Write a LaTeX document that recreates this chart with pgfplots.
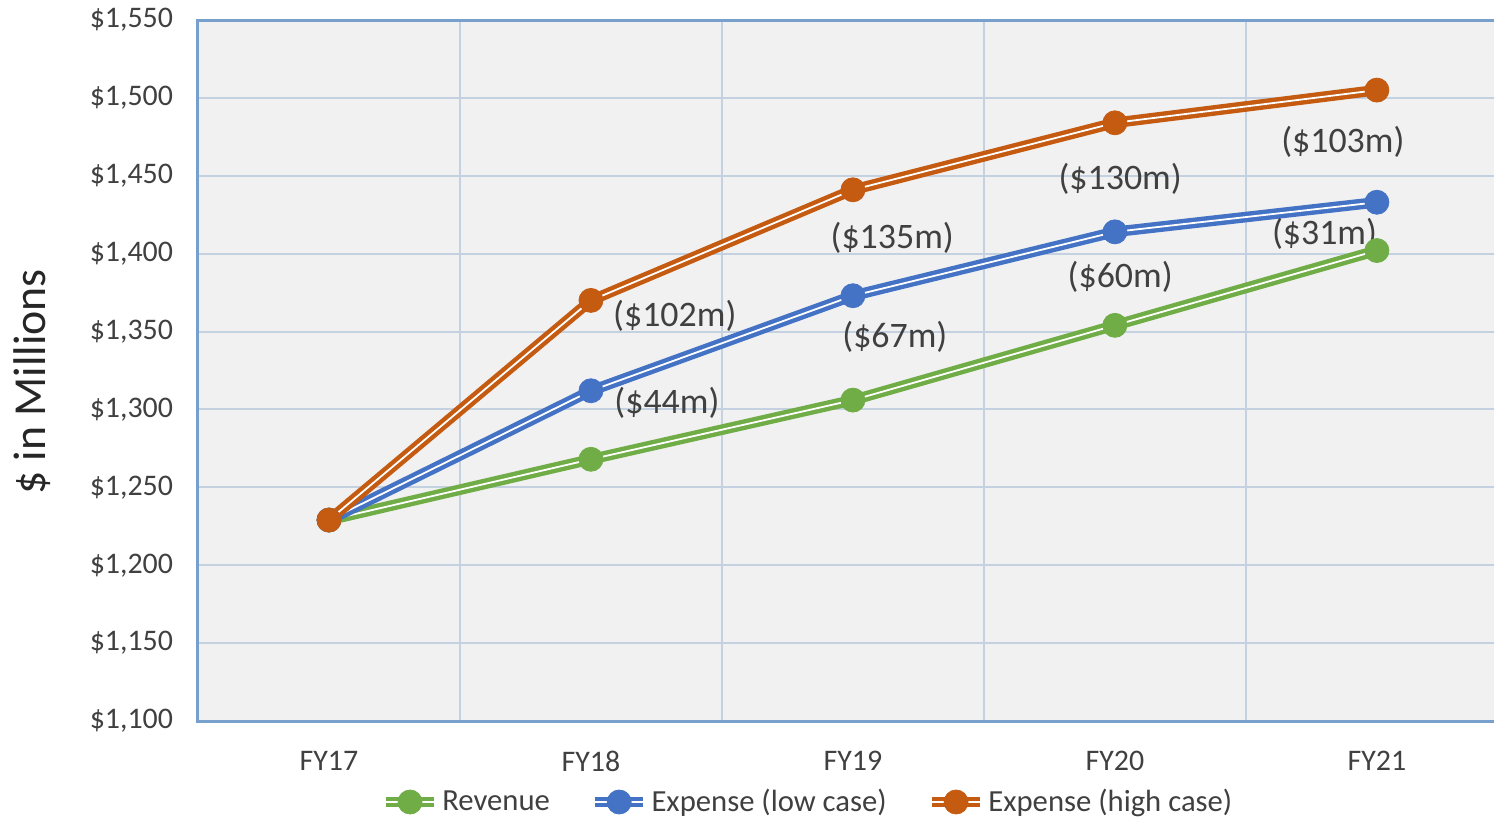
\documentclass[border=0pt]{standalone}
\usepackage{pgfplots}
\pgfplotsset{compat=1.18}
\usepackage{fontspec}
\setmainfont{Carlito}
\definecolor{cOr}{RGB}{197,90,17}
\definecolor{cBl}{RGB}{68,114,196}
\definecolor{cGr}{RGB}{112,173,71}
\definecolor{cGrid}{RGB}{196,209,224}
\definecolor{cFrame}{RGB}{120,160,205}
\definecolor{cBg}{RGB}{241,241,241}
\definecolor{cTxt}{RGB}{64,64,64}
\tikzset{dl/.style={line width=2.2bp, double=white, double distance=0.9bp, line join=round, line cap=round}}
\begin{document}
\begin{tikzpicture}
\begin{axis}[
 name=ax,
 scale only axis, width=648bp, height=350.5bp,
 clip=false,
 xmin=-0.5, xmax=4.447, ymin=1100, ymax=1550,
 xtick={0,1,2,3,4}, xticklabels={FY17,FY18,FY19,FY20,FY21},
 minor xtick={0.5,1.5,2.5,3.5},
 ytick={1100,1150,...,1550},
 xminorgrids=true, ymajorgrids=true, xmajorgrids=false,
 grid style={cGrid, line width=1bp},
 minor grid style={cGrid, line width=1bp},
 major tick length=0pt, minor tick length=0pt,
 axis line style={draw=none},
 axis background/.style={fill=cBg},
 tick label style={font=\fontsize{15}{18}\selectfont, text=cTxt},
 xticklabel style={yshift=-11.5bp},
 yticklabel style={xshift=-9bp},
 /pgf/number format/assume math mode=true,
 yticklabel={\$\pgfmathprintnumber[assume math mode=true,1000 sep={,},fixed,precision=0]{\tick}},
 ylabel={\$ in Millions},
 every axis y label/.style={at={(axis description cs:-0.128,0.4836)}, rotate=90, anchor=center,
   font=\fontsize{23}{27}\selectfont, text=black!85},
 legend style={at={(axis description cs:0.4707,0)}, anchor=center, yshift=-40.5bp, draw=none, fill=none,
   font=\fontsize{15.4}{18}\selectfont, text=cTxt, nodes={inner sep=1.5bp},
   /tikz/every even column/.append style={column sep=18.5bp}},
 legend columns=3,
 legend cell align=left,
]
\addplot[cGr, dl, forget plot] coordinates {(0,1229)(1,1268)(2,1306)(3,1354)(4,1402)};
\addplot[only marks, mark=*, mark size=6bp, cGr, mark options={fill=cGr, draw=cGr},
  legend image code/.code={\draw[cGr, dl, line cap=butt] (0bp,0bp) -- (24bp,0bp); \fill[cGr] (12bp,0bp) circle (6bp);}]
  coordinates {(0,1229)(1,1268)(2,1306)(3,1354)(4,1402)};
\addlegendentry{Revenue}
\addplot[cBl, dl, forget plot] coordinates {(0,1229)(1,1312)(2,1373)(3,1414)(4,1433)};
\addplot[only marks, mark=*, mark size=6bp, cBl, mark options={fill=cBl, draw=cBl},
  legend image code/.code={\draw[cBl, dl, line cap=butt] (0bp,0bp) -- (24bp,0bp); \fill[cBl] (12bp,0bp) circle (6bp);}]
  coordinates {(0,1229)(1,1312)(2,1373)(3,1414)(4,1433)};
\addlegendentry{Expense (low case)}
\addplot[cOr, dl, forget plot] coordinates {(0,1229)(1,1370)(2,1441)(3,1484)(4,1505)};
\addplot[only marks, mark=*, mark size=6bp, cOr, mark options={fill=cOr, draw=cOr},
  legend image code/.code={\draw[cOr, dl, line cap=butt] (0bp,0bp) -- (24bp,0bp); \fill[cOr] (12bp,0bp) circle (6bp);}]
  coordinates {(0,1229)(1,1370)(2,1441)(3,1484)(4,1505)};
\addlegendentry{Expense (high case)}
\begin{scope}[every node/.style={font=\fontsize{18}{21}\selectfont, text=cTxt}]
\node at (axis cs:1.32,1360) {(\$102m)};
\node at (axis cs:1.29,1304) {(\$44m)};
\node at (axis cs:2.15,1410) {(\$135m)};
\node at (axis cs:2.16,1346.5) {(\$67m)};
\node at (axis cs:3.02,1448) {(\$130m)};
\node at (axis cs:3.02,1385) {(\$60m)};
\node at (axis cs:3.87,1472) {(\$103m)};
\node at (axis cs:3.80,1413) {(\$31m)};
\end{scope}
\draw[cFrame, line width=1.5bp] (rel axis cs:1,1) -- (rel axis cs:0,1) -- (rel axis cs:0,0) -- (rel axis cs:1,0);
\coordinate (BL) at (rel axis cs:0,0);
\coordinate (TR) at (rel axis cs:1,1);
\end{axis}
\pgfresetboundingbox
\path ([xshift=-99bp,yshift=-49bp]BL) rectangle ([yshift=10bp]TR);
\end{tikzpicture}
\end{document}
